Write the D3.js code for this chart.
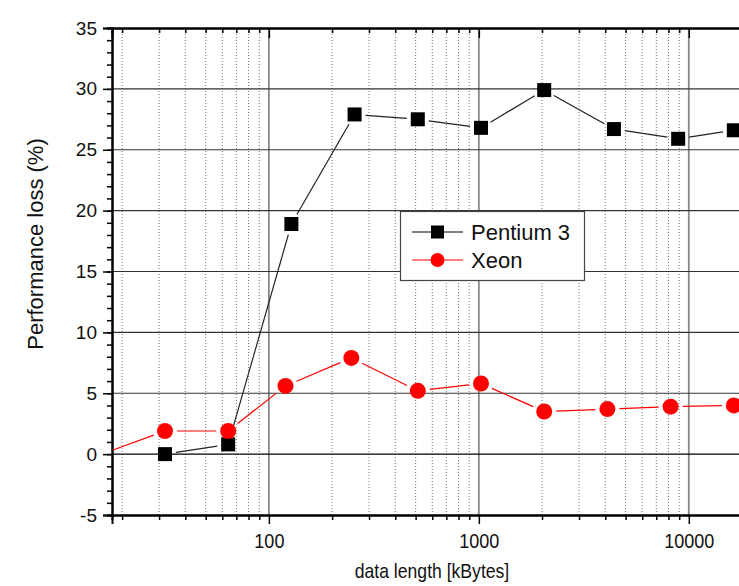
<!DOCTYPE html>
<html>
<head>
<meta charset="utf-8">
<script src="https://cdn.jsdelivr.net/npm/d3@7"></script>
<style>
  html, body { margin: 0; padding: 0; background: #fff; }
  svg { display: block; }
</style>
</head>
<body>
<svg id="chart" width="739" height="586"></svg>
<script>
// data
const pentiumSizes = [32, 64, 128, 256, 512, 1024, 2048, 4400, 8900, 16384];
const pentiumLoss  = [0.0, 0.8, 18.9, 27.9, 27.5, 26.8, 29.9, 26.7, 25.9, 26.6];
const xeonSizes = [16, 32, 64, 120, 247, 512, 1024, 2048, 4096, 8192, 16384];
const xeonLoss  = [0.0, 1.9, 1.9, 5.6, 7.9, 5.2, 5.8, 3.5, 3.7, 3.9, 4.0];
const seriesNames = ['Pentium 3', 'Xeon'];
const xMajorTicks = [100, 1000, 10000];
const yMajorTicks = [-5, 0, 5, 10, 15, 20, 25, 30, 35];

const svg = d3.select('#chart');
const plotLeft = 112, plotRight = 752, plotTop = 28, plotBottom = 515;

const x = d3.scaleLog().domain([17.9, 20000]).range([plotLeft, plotRight]);
const y = d3.scaleLinear().domain([-5, 35]).range([plotBottom, plotTop]);

// minor ticks: 2..9 of each decade
const xMinor = [];
[10, 100, 1000, 10000].forEach(d => {
    for (let k = 2; k <= 9; k++) {
        const v = d * k;
        if (v >= 17.9 && v <= 20000) xMinor.push(v);
    }
});
const yMinor = d3.range(-5, 36, 1);

const grid = svg.append('g');
grid.selectAll('line.minor')
    .data(xMinor)
    .join('line')
    .attr('class', 'minor')
    .attr('x1', d => x(d)).attr('x2', d => x(d))
    .attr('y1', plotTop).attr('y2', plotBottom)
    .attr('stroke', '#777')
    .attr('stroke-width', 1)
    .attr('stroke-dasharray', '1,2');
grid.selectAll('line.major')
    .data(xMajorTicks)
    .join('line')
    .attr('class', 'major')
    .attr('x1', d => x(d)).attr('x2', d => x(d))
    .attr('y1', plotTop).attr('y2', plotBottom)
    .attr('stroke', '#888')
    .attr('stroke-width', 1.8);
grid.selectAll('line.h')
    .data(yMajorTicks.filter(d => d > -5 && d < 35))
    .join('line')
    .attr('class', 'h')
    .attr('x1', plotLeft).attr('x2', plotRight)
    .attr('y1', d => y(d)).attr('y2', d => y(d))
    .attr('stroke', d => d === 0 ? '#000' : '#333')
    .attr('stroke-width', 1.2);

// axes
const tickFont = '"Liberation Sans", Arial, sans-serif';
const plain = d => String(d);   // keep ASCII hyphen for -5

const yAxis = svg.append('g').attr('transform', `translate(${plotLeft},0)`)
    .call(d3.axisLeft(y).tickValues(yMajorTicks).tickSize(9).tickPadding(6).tickFormat(plain));
svg.append('g').attr('transform', `translate(${plotLeft},0)`)
    .call(d3.axisLeft(y).tickValues(yMinor).tickSize(5).tickFormat(''));

const xAxis = svg.append('g').attr('transform', `translate(0,${plotBottom})`)
    .call(d3.axisBottom(x).tickValues(xMajorTicks).tickSize(9).tickPadding(9).tickFormat(plain));
svg.append('g').attr('transform', `translate(0,${plotBottom})`)
    .call(d3.axisBottom(x).tickValues(xMinor).tickSize(5).tickFormat(''));

// top axis with inward ticks
svg.append('g').attr('transform', `translate(0,${plotTop})`)
    .call(d3.axisTop(x).tickValues(xMajorTicks).tickSize(-10).tickFormat(''));
svg.append('g').attr('transform', `translate(0,${plotTop})`)
    .call(d3.axisTop(x).tickValues(xMinor).tickSize(-5).tickFormat(''));

svg.selectAll('.domain').attr('stroke', '#000').attr('stroke-width', 2);
svg.selectAll('.tick line').attr('stroke', '#000').attr('stroke-width', 1.5);
yAxis.selectAll('text').attr('font-family', tickFont).attr('font-size', 19).attr('fill', '#111');
// x labels are narrow in the original
xAxis.selectAll('text')
    .attr('font-family', tickFont).attr('font-size', 21).attr('fill', '#111')
    .attr('transform', 'scale(0.86,1)');

// axis titles
svg.append('text')
    .attr('transform', 'translate(43,244) rotate(-90)')
    .attr('text-anchor', 'middle')
    .attr('font-family', tickFont)
    .attr('font-size', 22)
    .attr('fill', '#111')
    .text('Performance loss (%)');
svg.append('text')
    .attr('transform', `translate(${(plotLeft + plotRight) / 2},578) scale(0.88,1)`)
    .attr('text-anchor', 'middle')
    .attr('font-family', tickFont)
    .attr('font-size', 20)
    .attr('fill', '#111')
    .text('data length [kBytes]');

// data
svg.append('clipPath').attr('id', 'plot-clip')
    .append('rect').attr('x', plotLeft).attr('y', plotTop)
    .attr('width', plotRight - plotLeft).attr('height', plotBottom - plotTop);

const plot = svg.append('g').attr('clip-path', 'url(#plot-clip)');

// segments that stop short of the markers, Origin style
function segments(xs, ys, gap) {
    const pts = xs.map((v, i) => [x(v), y(ys[i])]);
    const segs = [];
    for (let i = 0; i < pts.length - 1; i++) {
        const [x1, y1] = pts[i], [x2, y2] = pts[i + 1];
        const len = Math.hypot(x2 - x1, y2 - y1);
        if (len <= 2 * gap) continue;
        const ux = (x2 - x1) / len, uy = (y2 - y1) / len;
        segs.push([x1 + ux * gap, y1 + uy * gap, x2 - ux * gap, y2 - uy * gap]);
    }
    return segs;
}

function drawSeries(xs, ys, color, lineColor, shape, gap) {
    const g = plot.append('g');
    g.selectAll('line')
        .data(segments(xs, ys, gap))
        .join('line')
        .attr('x1', d => d[0]).attr('y1', d => d[1])
        .attr('x2', d => d[2]).attr('y2', d => d[3])
        .attr('stroke', lineColor)
        .attr('stroke-width', 1.2);
    const pts = xs.map((v, i) => ({ sz: v, loss: ys[i] }));
    if (shape === 'square') {
        g.selectAll('rect')
            .data(pts)
            .join('rect')
            .attr('x', d => x(d.sz) - 7).attr('y', d => y(d.loss) - 7)
            .attr('width', 14).attr('height', 14)
            .attr('fill', color);
    } else {
        g.selectAll('circle')
            .data(pts)
            .join('circle')
            .attr('cx', d => x(d.sz)).attr('cy', d => y(d.loss))
            .attr('r', 8)
            .attr('fill', color);
    }
}

drawSeries(pentiumSizes, pentiumLoss, '#000', '#222', 'square', 11);
drawSeries(xeonSizes, xeonLoss, '#ff0000', '#ff0000', 'circle', 12);

// legend
const legend = svg.append('g');
legend.append('rect')
    .attr('x', 400.5).attr('y', 211.5)
    .attr('width', 184).attr('height', 69)
    .attr('fill', '#fff')
    .attr('stroke', '#444')
    .attr('stroke-width', 1.2);

const legendRows = [
    { name: seriesNames[0], color: '#000', shape: 'square', cy: 232 },
    { name: seriesNames[1], color: '#ff0000', shape: 'circle', cy: 260 },
];
legendRows.forEach(r => {
    legend.append('line')
        .attr('x1', 412).attr('x2', 463)
        .attr('y1', r.cy).attr('y2', r.cy)
        .attr('stroke', r.color).attr('stroke-width', 1.2);
    if (r.shape === 'square') {
        legend.append('rect')
            .attr('x', 437.5 - 6.5).attr('y', r.cy - 6.5)
            .attr('width', 13).attr('height', 13)
            .attr('fill', r.color);
    } else {
        legend.append('circle')
            .attr('cx', 437.5).attr('cy', r.cy).attr('r', 7)
            .attr('fill', r.color);
    }
    legend.append('text')
        .attr('x', 471)
        .attr('y', r.cy + 8)
        .attr('font-family', tickFont)
        .attr('font-size', 22)
        .attr('fill', '#111')
        .text(r.name);
});
</script>
</body>
</html>
